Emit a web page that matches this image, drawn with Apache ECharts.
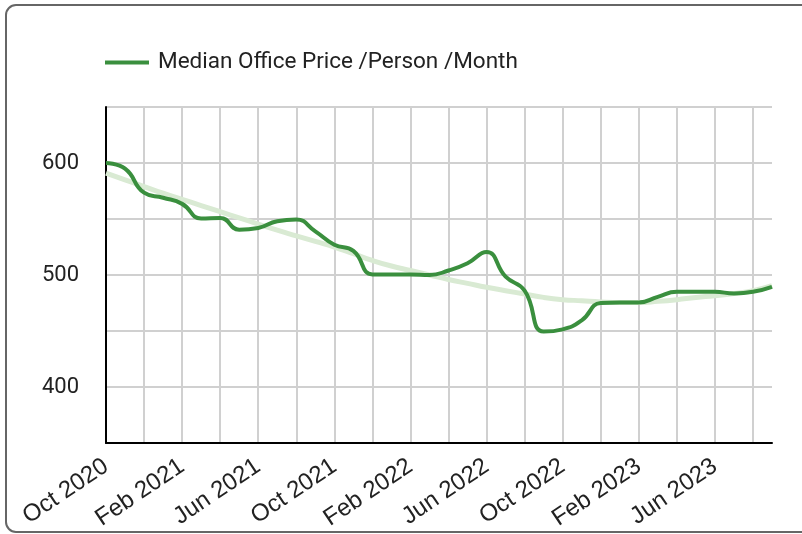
<!DOCTYPE html>
<html>
<head>
<meta charset="utf-8">
<script src="https://cdn.jsdelivr.net/npm/echarts@6/dist/echarts.min.js"></script>
<style>
	html, body { margin: 0; padding: 0; background: #fff; }
	#chart { width: 802px; height: 534px; }
</style>
</head>
<body>
<div id="chart"></div>
<script>
// monthly, Oct 2020 .. Sep 2023
var months = [
	'Oct 2020', 'Nov 2020', 'Dec 2020', 'Jan 2021', 'Feb 2021', 'Mar 2021',
	'Apr 2021', 'May 2021', 'Jun 2021', 'Jul 2021', 'Aug 2021', 'Sep 2021',
	'Oct 2021', 'Nov 2021', 'Dec 2021', 'Jan 2022', 'Feb 2022', 'Mar 2022',
	'Apr 2022', 'May 2022', 'Jun 2022', 'Jul 2022', 'Aug 2022', 'Sep 2022',
	'Oct 2022', 'Nov 2022', 'Dec 2022', 'Jan 2023', 'Feb 2023', 'Mar 2023',
	'Apr 2023', 'May 2023', 'Jun 2023', 'Jul 2023', 'Aug 2023', 'Sep 2023'
];
var medianPrice = [
	600, 595, 573.5, 569, 563.5, 550.5, 551, 540.5, 542, 548, 549.5, 539,
	527, 521.5, 500.5, 500.5, 500.5, 500, 504, 510.5, 520.5, 498.5, 486, 449.5,
	451.5, 459.5, 475, 475.5, 475.5, 480.5, 485, 485, 485, 483.5, 485, 489.5
];
var trendLine = [
	591, 585, 579, 573, 567.5, 562, 556.5, 551, 545.5, 540, 535, 530,
	525, 519, 513, 508, 504, 500, 496, 492.5, 489, 486, 483, 480,
	478, 477, 476, 475.5, 475.5, 476.5, 478, 480, 481.5, 483.5, 486, 490.5
];
var seriesName = 'Median Office Price /Person /Month';

var myChart = echarts.init(document.getElementById('chart'));
var option = {
	animation: false,
	backgroundColor: '#fff',
	graphic: [{
		type: 'rect',
		shape: { x: 6, y: 5, width: 830, height: 527, r: 10 },
		style: { fill: 'none', stroke: '#666', lineWidth: 2 },
		silent: true
	}],
	legend: {
		left: 100,
		top: 46,
		data: [{ name: seriesName, icon: 'rect' }],
		itemWidth: 44,
		itemHeight: 4,
		textStyle: {
			fontFamily: 'Roboto',
			fontSize: 22.5,
			color: '#222',
			padding: [0, 0, 0, 4]
		}
	},
	grid: {
		left: 106,
		right: 30,
		top: 107,
		bottom: 91
	},
	xAxis: {
		type: 'category',
		data: months,
		boundaryGap: false,
		axisLine: { lineStyle: { color: '#000', width: 2 } },
		axisTick: { show: false },
		axisLabel: {
			interval: 3,
			rotate: 34,
			margin: 21,
			fontFamily: 'Liberation Sans',
			fontSize: 24,
			color: '#222'
		},
		splitLine: {
			show: true,
			interval: 1,
			lineStyle: { color: '#d0d0d0', width: 2 }
		}
	},
	yAxis: {
		type: 'value',
		min: 350,
		max: 650,
		interval: 50,
		axisLine: { show: true, lineStyle: { color: '#000', width: 2 } },
		axisTick: { show: false },
		axisLabel: {
			margin: 27,
			fontFamily: 'Roboto',
			fontSize: 22,
			color: '#222',
			formatter: function (v) { return v % 100 === 0 ? String(v) : ''; }
		},
		splitLine: { lineStyle: { color: '#d0d0d0', width: 2 } }
	},
	series: [
		{
			name: 'Trend',
			type: 'line',
			data: trendLine,
			smooth: 0.5,
			showSymbol: false,
			lineStyle: { color: '#d9ead3', width: 5 },
			itemStyle: { color: '#d9ead3' },
			z: 2
		},
		{
			name: seriesName,
			type: 'line',
			data: medianPrice,
			smooth: 0.5,
			showSymbol: false,
			lineStyle: { color: '#3a8f3e', width: 4 },
			itemStyle: { color: '#3a8f3e' },
			z: 3
		}
	]
};
myChart.setOption(option);
</script>
</body>
</html>
